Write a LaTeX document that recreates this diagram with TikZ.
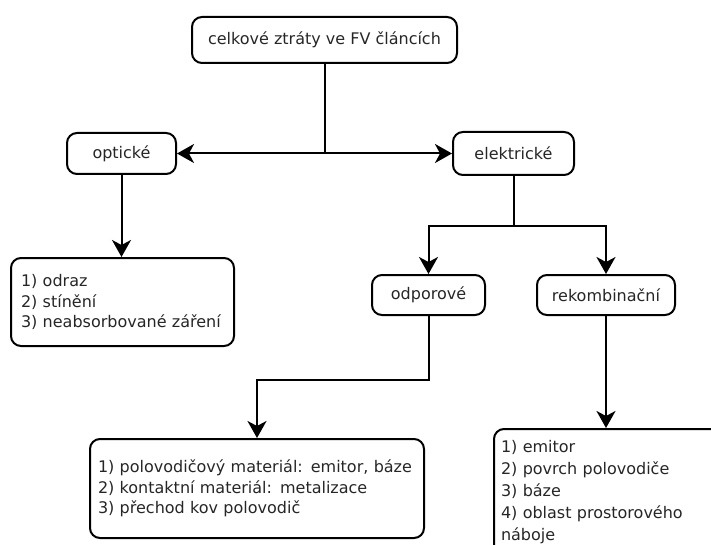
\documentclass[tikz,border=0pt]{standalone}
\usepackage{fontspec}
\setmainfont{DejaVu Sans}
\usetikzlibrary{arrows.meta}

\tikzset{
	box/.style={draw, line width=2pt, rounded corners=10pt, text=black!85,
		font=\fontsize{16}{20.5}\selectfont},
	listbox/.style={box, align=left, anchor=north west, inner xsep=10pt},
	arr/.style={line width=2pt, -{Stealth[length=17pt,width=19pt,inset=5pt]}},
	line/.style={line width=2pt}
}

\begin{document}
\begin{tikzpicture}[x=1pt,y=-1pt]
	\useasboundingbox (0,0) rectangle (711,545);
	\clip (0,0) rectangle (711,545);

	% top level
	\node[box, minimum width=265pt, minimum height=46pt] (total) at (324.5,40) {celkové ztráty ve FV článcích};

	% optical / electrical
	\node[box, minimum width=109pt, minimum height=41pt] (opt)  at (121.5,153.5) {optické};
	\node[box, minimum width=121pt, minimum height=43pt] (elec) at (513.5,153.5) {elektrické};

	\node[box, minimum width=113pt, minimum height=40pt] (odp) at (428.5,295) {odporové};
	\node[box, minimum width=138pt, minimum height=40pt] (rek) at (606,295)   {rekombinační};

	% lists
	\node[listbox, text width=203pt, minimum height=88pt] (list1) at (10,257)
		{1) odraz\\ 2) stínění\\ 3) neabsorbované záření};
	\node[listbox, inner xsep=8pt, text width=318pt, minimum height=99pt] (list2) at (89,438)
		{1) polovodičový materiál: emitor, báze\\ 2) kontaktní materiál: metalizace\\ 3) přechod kov polovodič};
	\node[listbox, inner xsep=7pt, text width=226pt, minimum height=126pt,
		font=\fontsize{16}{22}\selectfont] (list3) at (493,428)
		{1) emitor\\ 2) povrch polovodiče\\ 3) báze\\ 4) oblast prostorového\\ náboje};

	% connectors
	\coordinate (hub)  at (324.5,153.5);
	\coordinate (fork) at (513.5,226);
	\coordinate (bend) at (257,380);

	\draw[line] (total) -- (hub);
	\draw[arr] (hub) -- (opt);
	\draw[arr] (hub) -- (elec);
	\draw[arr] (opt) -- (opt |- list1.north);

	\draw[line] (elec) -- (fork);
	\draw[arr] (fork) -| (odp);
	\draw[arr] (fork) -| (rek);

	\draw[arr] (odp) |- (bend) -- (bend |- list2.north);
	\draw[arr] (rek) -- (rek |- list3.north);
\end{tikzpicture}
\end{document}
